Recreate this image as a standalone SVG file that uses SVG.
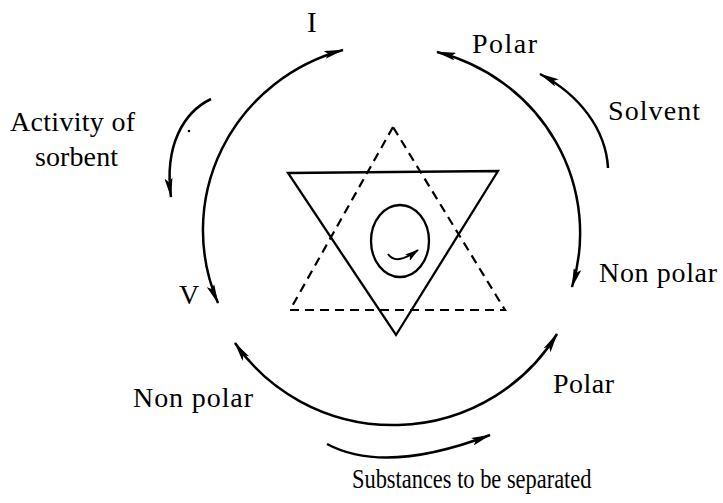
<svg xmlns="http://www.w3.org/2000/svg" width="723" height="503" viewBox="0 0 723 503">
<style>
.t{font-family:"Liberation Serif","Times New Roman",serif;font-size:28px;fill:#000}
.arc{fill:none;stroke:#000;stroke-width:2.5}
.tri{fill:none;stroke:#000;stroke-width:2.3;stroke-linejoin:miter}
.dash{fill:none;stroke:#000;stroke-width:2.2;stroke-dasharray:9 6}
</style>
<defs>
<marker id="ah" viewBox="0 0 20 8" refX="19" refY="4" markerWidth="20" markerHeight="8" markerUnits="userSpaceOnUse" orient="auto-start-reverse">
<path d="M0,0 L20,4 L0,8 L4,4 Z" fill="#000"/>
</marker>
<marker id="ahs" viewBox="0 0 14 8" refX="13" refY="4" markerWidth="14" markerHeight="8" markerUnits="userSpaceOnUse" orient="auto">
<path d="M0,0 L14,4 L0,8 L3,4 Z" fill="#000"/>
</marker>
</defs>
<rect width="723" height="503" fill="#fff"/>
<g id="connectors">
<path class="arc" d="M343,50 A191 187 0 0 0 218,303" marker-start="url(#ah)" marker-end="url(#ah)"/>
<path class="arc" d="M437,52 A191 187 0 0 1 572,287" marker-start="url(#ah)" marker-end="url(#ah)"/>
<path class="arc" d="M235,343 A191 187 0 0 0 557,334" marker-start="url(#ah)" marker-end="url(#ah)"/>
<path class="arc" d="M211,99 C184,112 164,145 171,197" marker-end="url(#ah)"/>
<path class="arc" d="M608,168 C606,130 580,95 540,74" marker-end="url(#ah)"/>
<path class="arc" d="M327,444 Q385,475 490,435" marker-end="url(#ah)"/>
</g>
<g id="star">
<polygon class="dash" points="393,127 290,310 505,310"/>
<polygon class="tri" points="288,173 498,171 396,335"/>
</g>
<g id="cycle">
<ellipse cx="400" cy="241" rx="29" ry="36" fill="none" stroke="#000" stroke-width="2.3"/>
<path d="M388,254 Q396,266 418,250" fill="none" stroke="#000" stroke-width="2" marker-end="url(#ahs)"/>
</g>
<circle cx="189" cy="131" r="1.3" fill="#000"/>
<g id="labels">
<text class="t" x="307" y="32" style="font-size:29px">I</text>
<text class="t" x="472" y="53" textLength="65" lengthAdjust="spacing">Polar</text>
<text class="t" x="608" y="120" textLength="92" lengthAdjust="spacing">Solvent</text>
<text class="t" x="10" y="131" textLength="125" lengthAdjust="spacing">Activity of</text>
<text class="t" x="35" y="166" textLength="83" lengthAdjust="spacing">sorbent</text>
<text class="t" x="179" y="304">V</text>
<text class="t" x="599" y="282" textLength="118" lengthAdjust="spacing">Non polar</text>
<text class="t" x="133" y="407" textLength="120" lengthAdjust="spacing">Non polar</text>
<text class="t" x="553" y="393" textLength="61" lengthAdjust="spacing">Polar</text>
<text class="t" transform="translate(352,488) scale(0.83,1)" x="0" y="0" style="font-size:27px">Substances to be separated</text>
</g>
</svg>
